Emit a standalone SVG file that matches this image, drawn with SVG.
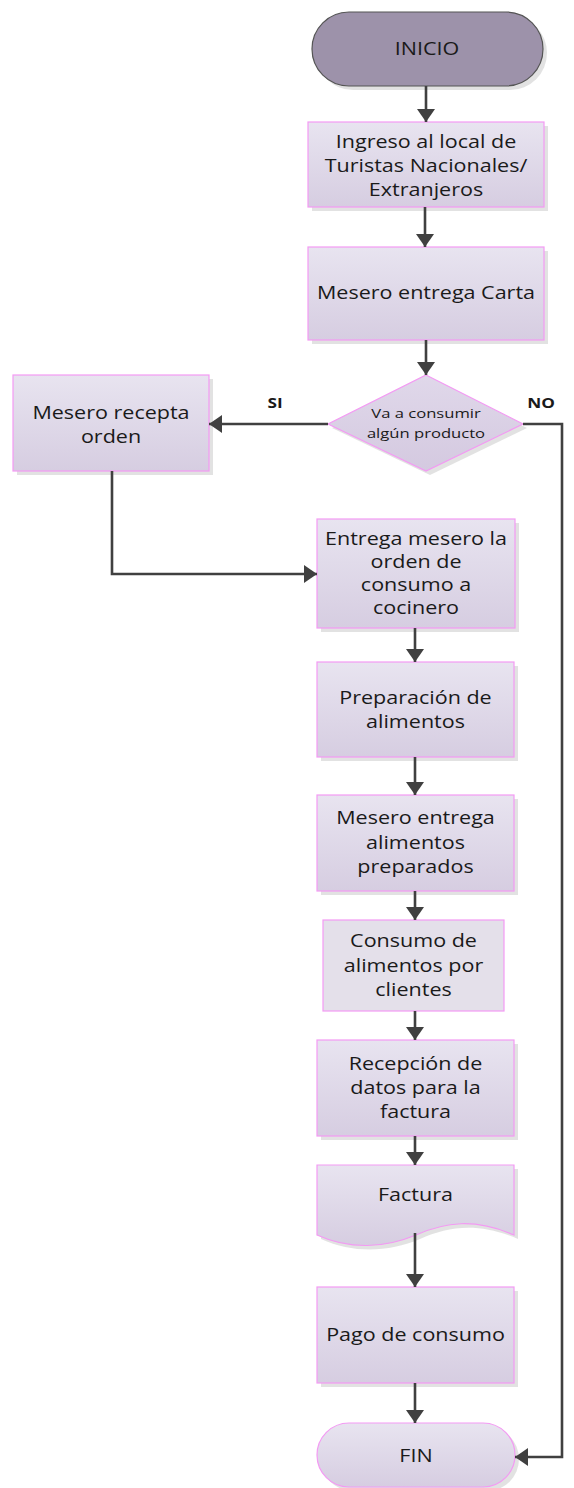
<svg xmlns="http://www.w3.org/2000/svg" width="574" height="1488" viewBox="0 0 574 1488">
<defs>
<linearGradient id="g" x1="0" y1="0" x2="0" y2="1">
<stop offset="0" stop-color="#e8e4f0"/>
<stop offset="1" stop-color="#d6cde1"/>
</linearGradient>
<linearGradient id="gd" x1="0" y1="0" x2="0" y2="1">
<stop offset="0" stop-color="#e0d8ea"/>
<stop offset="1" stop-color="#d4c9e0"/>
</linearGradient>
<marker id="ah" markerUnits="userSpaceOnUse" markerWidth="14" markerHeight="18" refX="13" refY="9" orient="auto">
<path d="M0,0 L13,9 L0,18 z" fill="#404040"/>
</marker>
<style>
.b{fill:url(#g);stroke:#f39af3;stroke-width:1.2}
.sh{fill:#d6d6d6;opacity:0.7}
.t{font-family:"Open Sans","Noto Sans",sans-serif;font-size:17.5px;fill:#1a1a1a;text-anchor:middle}
.ts{font-size:13.5px}
.tb{font-family:"Open Sans","Noto Sans",sans-serif;font-weight:bold;font-size:14px;fill:#1a1a1a;text-anchor:middle}
.c{fill:none;stroke:#404040;stroke-width:2.6;marker-end:url(#ah)}
</style>
</defs>
<rect width="574" height="1488" fill="#ffffff"/>

<g id="inicio">
<rect class="sh" x="316" y="16" width="231" height="74" rx="37"/>
<rect x="312" y="12" width="231" height="74" rx="37" fill="#9d92aa" stroke="#555555" stroke-width="1.2"/>
<text class="t" font-size="17px" transform="translate(427,0) scale(1.23,1)"><tspan x="0" y="55">INICIO</tspan></text>
</g>

<g id="ingreso">
<rect class="sh" x="312" y="126" width="236" height="85"/>
<rect class="b" x="308" y="122" width="236" height="85"/>
<text class="t" transform="translate(426,0) scale(1.23,1)"><tspan x="0" y="148">Ingreso al local de</tspan><tspan x="0" y="172">Turistas Nacionales/</tspan><tspan x="0" y="196">Extranjeros</tspan></text>
</g>

<g id="carta">
<rect class="sh" x="312" y="251" width="236" height="93"/>
<rect class="b" x="308" y="247" width="236" height="93"/>
<text class="t" transform="translate(426,0) scale(1.23,1)"><tspan x="0" y="299">Mesero entrega Carta</tspan></text>
</g>

<g id="decision">
<path class="sh" d="M430,379 L527,428 L430,475 L332,428 Z"/>
<path d="M426,375 L523,424 L426,471 L328,424 Z" fill="url(#gd)" stroke="#f39af3" stroke-width="1.2"/>
<text class="t ts" transform="translate(426,0) scale(1.23,1)"><tspan x="0" y="418">Va a consumir</tspan><tspan x="0" y="438">algún producto</tspan></text>
</g>

<g id="recepta">
<rect class="sh" x="17" y="379" width="196" height="96"/>
<rect class="b" x="13" y="375" width="196" height="96"/>
<text class="t" transform="translate(111,0) scale(1.23,1)"><tspan x="0" y="419">Mesero recepta</tspan><tspan x="0" y="443">orden</tspan></text>
</g>

<g id="entrega">
<rect class="sh" x="321" y="523" width="198" height="109"/>
<rect class="b" x="317" y="519" width="198" height="109"/>
<text class="t" transform="translate(416,0) scale(1.23,1)"><tspan x="0" y="545">Entrega mesero la</tspan><tspan x="0" y="568">orden de</tspan><tspan x="0" y="591">consumo a</tspan><tspan x="0" y="614">cocinero</tspan></text>
</g>

<g id="preparacion">
<rect class="sh" x="321" y="666" width="197" height="95"/>
<rect class="b" x="317" y="662" width="197" height="95"/>
<text class="t" transform="translate(415.5,0) scale(1.23,1)"><tspan x="0" y="704">Preparación de</tspan><tspan x="0" y="728">alimentos</tspan></text>
</g>

<g id="entregaalimentos">
<rect class="sh" x="321" y="799" width="197" height="96"/>
<rect class="b" x="317" y="795" width="197" height="96"/>
<text class="t" transform="translate(415.5,0) scale(1.23,1)"><tspan x="0" y="824">Mesero entrega</tspan><tspan x="0" y="849">alimentos</tspan><tspan x="0" y="873">preparados</tspan></text>
</g>

<g id="consumo">
<rect x="323" y="920" width="181" height="91" fill="#e4e0ea" stroke="#f39af3" stroke-width="1.2"/>
<text class="t" transform="translate(413.5,0) scale(1.23,1)"><tspan x="0" y="947">Consumo de</tspan><tspan x="0" y="972">alimentos por</tspan><tspan x="0" y="996">clientes</tspan></text>
</g>

<g id="recepcion">
<rect class="sh" x="321" y="1044" width="197" height="96"/>
<rect class="b" x="317" y="1040" width="197" height="96"/>
<text class="t" transform="translate(415.5,0) scale(1.23,1)"><tspan x="0" y="1070">Recepción de</tspan><tspan x="0" y="1094">datos para la</tspan><tspan x="0" y="1118">factura</tspan></text>
</g>

<g id="factura">
<path class="sh" d="M321,1169 H518 V1239 C479,1222 449,1226 420,1239 C389,1252 354,1254 321,1239 Z"/>
<path class="b" d="M317,1165 H514 V1235 C475,1218 445,1222 416,1235 C385,1248 350,1250 317,1235 Z"/>
<text class="t" transform="translate(415.5,0) scale(1.23,1)"><tspan x="0" y="1201">Factura</tspan></text>
</g>

<g id="pago">
<rect class="sh" x="321" y="1291" width="197" height="96"/>
<rect class="b" x="317" y="1287" width="197" height="96"/>
<text class="t" transform="translate(415.5,0) scale(1.23,1)"><tspan x="0" y="1341">Pago de consumo</tspan></text>
</g>

<g id="fin">
<rect class="sh" x="321" y="1427" width="198" height="64" rx="32"/>
<rect class="b" x="317" y="1423" width="198" height="64" rx="32"/>
<text class="t" font-size="17px" transform="translate(416,0) scale(1.23,1)"><tspan x="0" y="1462">FIN</tspan></text>
</g>

<g id="connectors">
<path class="c" d="M426,86 V122"/>
<path class="c" d="M425,207 V247"/>
<path class="c" d="M426,340 V375"/>
<path class="c" d="M328,424 H209"/>
<path class="c" d="M112,471 V574 H317"/>
<path class="c" d="M415,628 V662"/>
<path class="c" d="M415,757 V795"/>
<path class="c" d="M415,891 V920"/>
<path class="c" d="M415,1011 V1040"/>
<path class="c" d="M415,1136 V1165"/>
<path class="c" d="M415,1233 V1287"/>
<path class="c" d="M415,1383 V1423"/>
<path class="c" d="M523,424 H562 V1457 H515"/>
<text class="tb" transform="translate(275,0) scale(1.23,1)"><tspan x="0" y="408">SI</tspan></text>
<text class="tb" transform="translate(541,0) scale(1.23,1)"><tspan x="0" y="408">NO</tspan></text>
</g>
</svg>
